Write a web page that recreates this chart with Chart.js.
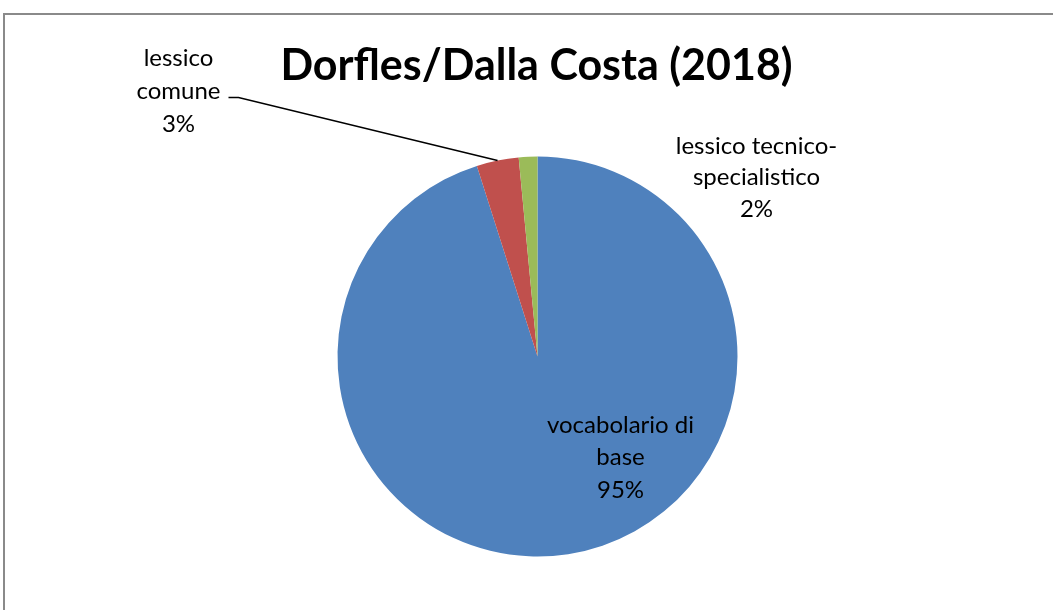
<!DOCTYPE html>
<html>
<head>
<meta charset="utf-8">
<script src="https://cdn.jsdelivr.net/npm/chart.js@4"></script>
<style>
  html, body { margin: 0; padding: 0; background: #fff; overflow: hidden; }
  #wrap { position: relative; width: 1053px; height: 610px; }
  #frame {
    position: absolute; left: 3px; top: 13px; width: 1200px; height: 800px;
    border-left: 2px solid #8a8a8a; border-top: 2px solid #8a8a8a;
  }
  #chart { position: absolute; left: 0; top: 0; }
</style>
</head>
<body>
<div id="wrap">
  <div id="frame"></div>
  <canvas id="chart" width="1053" height="610"></canvas>
</div>
<script>
// Chart data
const chartTitle = "Dorfles/Dalla Costa (2018)";
const categories = ["vocabolario di base", "lessico comune", "lessico tecnico-specialistico"];
const values = [95.1, 3.4, 1.5];
const percentLabels = ["95%", "3%", "2%"];
const labelLines = [
  ["vocabolario di", "base"],
  ["lessico", "comune"],
  ["lessico tecnico-", "specialistico"]
];
const sliceColors = ["#4F81BD", "#C0504D", "#9BBB59"];

// Label placement relative to the pie centre (px)
const labelLayout = [
  { dx: 83, dy: 76, lineH: 32.5, leader: false },
  { dx: -359, dy: -291, lineH: 33, leader: true, leaderEnd: [-299, -259], leaderKnee: [-309, -259] },
  { dx: 219, dy: -203, lineH: 31.5, leader: false }
];

const labelFont = "24px Lato, 'Open Sans', sans-serif";
const titleFont = "bold 43px Lato, 'Open Sans', sans-serif";

// Title, data labels and leader line
const labelPlugin = {
  id: "pieLabels",
  afterDraw(chart) {
    const ctx = chart.ctx;
    const arcs = chart.getDatasetMeta(0).data;
    const cx = arcs[0].x, cy = arcs[0].y;

    ctx.save();
    ctx.fillStyle = "#000";
    ctx.textAlign = "center";
    ctx.textBaseline = "alphabetic";
    ctx.font = titleFont;
    ctx.fillText(chartTitle, cx - 1, 80);

    ctx.font = labelFont;
    labelLayout.forEach((lay, i) => {
      const lines = labelLines[i].concat([percentLabels[i]]);
      lines.forEach((t, j) => {
        ctx.fillText(t, cx + lay.dx, cy + lay.dy + j * lay.lineH);
      });
      if (lay.leader) {
        const arc = arcs[i];
        const mid = (arc.startAngle + arc.endAngle) / 2;
        const sx = arc.x + Math.cos(mid) * arc.outerRadius;
        const sy = arc.y + Math.sin(mid) * arc.outerRadius;
        ctx.beginPath();
        ctx.strokeStyle = "#000";
        ctx.lineWidth = 1.5;
        ctx.moveTo(sx, sy);
        ctx.lineTo(cx + lay.leaderEnd[0], cy + lay.leaderEnd[1]);
        ctx.lineTo(cx + lay.leaderKnee[0], cy + lay.leaderKnee[1]);
        ctx.stroke();
      }
    });
    ctx.restore();
  }
};

new Chart(document.getElementById("chart"), {
  type: "pie",
  data: {
    labels: categories,
    datasets: [{
      data: values,
      backgroundColor: sliceColors,
      borderWidth: 0
    }]
  },
  options: {
    responsive: false,
    animation: false,
    layout: { padding: { left: 337.5, right: 315.5, top: 156.5, bottom: 53.5 } },
    plugins: {
      legend: { display: false },
      title: { display: false },
      tooltip: { enabled: false }
    }
  },
  plugins: [labelPlugin]
});
</script>
</body>
</html>
